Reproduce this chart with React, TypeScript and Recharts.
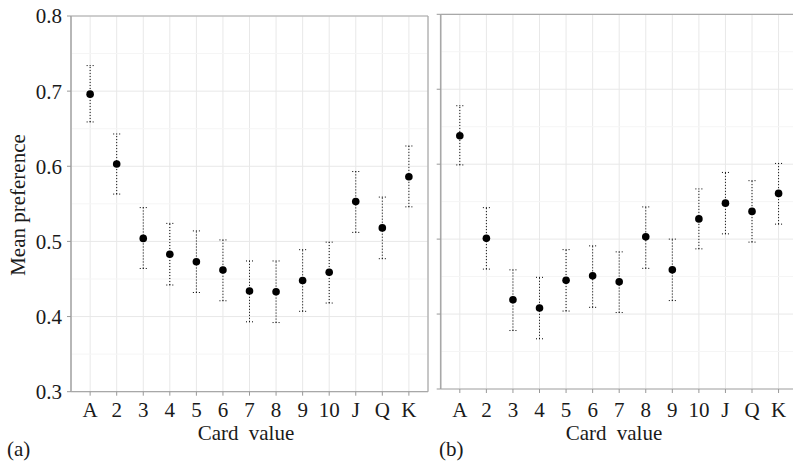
import React from 'react';
import {
  ScatterChart, Scatter, XAxis, YAxis, CartesianGrid, ErrorBar, ReferenceLine,
} from 'recharts';

const cards = ['A', '2', '3', '4', '5', '6', '7', '8', '9', '10', 'J', 'Q', 'K'];

// panel (a)
const meanA = [0.696, 0.603, 0.504, 0.483, 0.473, 0.462, 0.434, 0.433, 0.448, 0.459, 0.553, 0.518, 0.586];
const lowA = [0.659, 0.563, 0.464, 0.442, 0.432, 0.421, 0.393, 0.392, 0.407, 0.418, 0.512, 0.477, 0.546];
const highA = [0.734, 0.643, 0.545, 0.524, 0.514, 0.502, 0.474, 0.474, 0.489, 0.499, 0.593, 0.559, 0.627];

// panel (b)
const meanB = [0.638, 0.501, 0.419, 0.408, 0.445, 0.451, 0.443, 0.503, 0.459, 0.527, 0.548, 0.537, 0.561];
const lowB = [0.599, 0.460, 0.378, 0.367, 0.404, 0.409, 0.402, 0.461, 0.418, 0.487, 0.507, 0.496, 0.520];
const highB = [0.678, 0.542, 0.459, 0.449, 0.486, 0.491, 0.483, 0.543, 0.500, 0.567, 0.589, 0.578, 0.601];

const yTicks = [0.3, 0.4, 0.5, 0.6, 0.7, 0.8];
const yMinor = [0.35, 0.45, 0.55, 0.65, 0.75];
const xTicks = cards.map((_, i) => i);
const xDomain: [number, number] = [-0.72, 12.72];

const FONT = "'Liberation Serif', 'DejaVu Serif', serif";
const FRAME = '#a8a8a8';
const GRID = '#e8e8e8';
const MINOR = '#f5f5f5';

const build = (mean: number[], low: number[], high: number[]) =>
  mean.map((m, i) => ({ x: i, y: m, err: [m - low[i], high[i] - m] }));

const dataA = build(meanA, lowA, highA);
const dataB = build(meanB, lowB, highB);

const Dot = (props: any) => <circle cx={props.cx} cy={props.cy} r={3.8} fill="#000" />;

const tickStyle = { fontFamily: FONT, fontSize: 21, fill: '#1a1a1a' };

function Panel({ data, showLabels, margin, width, yWidth, xTickMargin }: any) {
  return (
    <ScatterChart width={width} height={430} margin={margin} style={{ fontFamily: FONT }}>
      <CartesianGrid stroke={GRID} />
      {yMinor.map((v) => (
        <ReferenceLine key={v} y={v} stroke={MINOR} strokeWidth={1} />
      ))}
      <ReferenceLine y={0.8} stroke={FRAME} strokeWidth={1.2} />
      <ReferenceLine x={xDomain[1]} stroke={FRAME} strokeWidth={1.2} />
      <XAxis
        dataKey="x"
        type="number"
        domain={xDomain}
        ticks={xTicks}
        interval={0}
        height={30}
        tickFormatter={(v: number) => cards[v]}
        tick={tickStyle}
        tickSize={4}
        tickMargin={xTickMargin}
        stroke={FRAME}
        axisLine={{ stroke: FRAME, strokeWidth: 1.2 }}
        tickLine={{ stroke: '#999' }}
      />
      <YAxis
        dataKey="y"
        type="number"
        domain={[0.3, 0.8]}
        ticks={yTicks}
        interval={0}
        width={yWidth}
        tickFormatter={(v: number) => v.toFixed(1)}
        tick={showLabels ? tickStyle : () => <g />}
        tickSize={4}
        tickMargin={5}
        axisLine={{ stroke: FRAME, strokeWidth: 1.6 }}
        tickLine={{ stroke: '#999' }}
      />
      <Scatter data={data} shape={Dot} isAnimationActive={false}>
        <ErrorBar
          dataKey="err"
          direction="y"
          width={3.5}
          stroke="#000"
          strokeWidth={1}
          strokeDasharray="1 2"
        />
      </Scatter>
    </ScatterChart>
  );
}

export default function App() {
  return (
    <div
      style={{
        position: 'fixed', left: 0, top: 0, width: 793, height: 461,
        overflow: 'hidden', background: '#fff', fontFamily: FONT,
      }}
    >
      <div style={{ position: 'absolute', left: 0, top: 0 }}>
        <Panel
          data={dataA}
          showLabels
          width={440}
          yWidth={60}
          xTickMargin={6}
          margin={{ top: 16, right: 12, left: 11, bottom: 8.3 }}
        />
      </div>
      <div style={{ position: 'absolute', left: 432, top: 0 }}>
        <Panel
          data={dataB}
          showLabels={false}
          width={376}
          yWidth={8.7}
          xTickMargin={8.8}
          margin={{ top: 14.3, right: 10.3, left: 0, bottom: 11 }}
        />
      </div>
      <svg
        width={793}
        height={461}
        style={{ position: 'absolute', left: 0, top: 0, pointerEvents: 'none', fontFamily: FONT }}
        fontSize={21}
        fill="#1a1a1a"
      >
        <text transform="translate(25,205) rotate(-90)" textAnchor="middle">Mean preference</text>
        <text x={246} y={440} textAnchor="middle" wordSpacing={5}>Card value</text>
        <text x={614} y={440} textAnchor="middle" wordSpacing={5}>Card value</text>
        <text x={7} y={456}>(a)</text>
        <text x={439} y={456}>(b)</text>
      </svg>
    </div>
  );
}
